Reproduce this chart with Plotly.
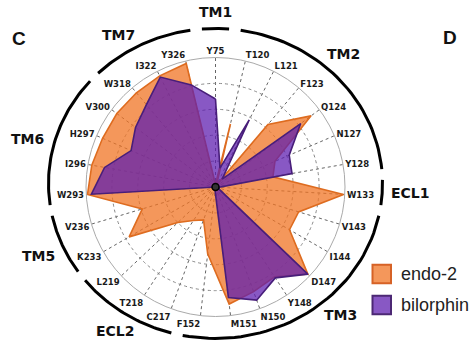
import math
import plotly.graph_objects as go

# ---------------- data ----------------
categories = ["Y75", "T120", "L121", "F123", "Q124", "N127", "Y128", "W133",
              "V143", "I144", "D147", "Y148", "N150", "M151", "F152",
              "C217", "T218", "L219", "K233", "V236",
              "W293", "I296", "H297", "V300", "W318", "I322", "Y326"]
endo2 = [2, 50, 2, 63, 92, 50, 45, 99,
         67, 66, 98, 83, 86, 91, 52,
         27, 31, 40, 77, 59,
         99, 97, 95, 95, 95, 96, 98]
bilorphin = [68, 15, 58, 8, 82, 62, 60, 3,
             3, 3, 98, 84, 93, 86, 3,
             0, 0, 0, 0, 0,
             96, 87, 71, 77, 83, 95, 81]
series_names = ["endo-2", "bilorphin"]

group_names = ["TM1", "TM2", "ECL1", "TM3", "ECL2", "TM5", "TM6", "TM7"]
group_first = ["Y75", "T120", "W133", "V143", "C217", "K233", "W293", "W318"]
group_last = ["Y75", "Y128", "W133", "F152", "L219", "V236", "V300", "Y326"]
panel_letters = ["C", "D"]

# ---------------- style / layout ----------------
W, H = 471, 342
CX, CY, R = 215.5, 187.0, 129.5          # polar centre / radius in px
ARC_CX, ARC_CY, ARC_RX, ARC_RY = 215.5, 183.5, 167, 155
LAB_RX, LAB_RY = 195, 172
label_angle = {"TM1": 0, "TM2": 41, "ECL1": 93.3, "TM3": 140, "ECL2": 211,
               "TM5": 245, "TM6": 285, "TM7": 330}

ORANGE_FILL = "rgba(240,116,36,0.75)"
ORANGE_LINE = "rgb(222,108,32)"
PURPLE_FILL = "rgba(95,30,175,0.74)"
PURPLE_LINE = "rgb(72,30,122)"

fig = go.Figure()

for name, vals, fc, lc in [(series_names[0], endo2, ORANGE_FILL, ORANGE_LINE),
                           (series_names[1], bilorphin, PURPLE_FILL, PURPLE_LINE)]:
    fig.add_trace(go.Scatterpolar(
        r=vals + [vals[0]], theta=categories + [categories[0]],
        mode="lines", fill="toself", fillcolor=fc,
        line=dict(color=lc, width=1.6), name=name, showlegend=False,
        hoverinfo="skip"))

# centre hub
fig.add_trace(go.Scatterpolar(r=[0], theta=[categories[0]], mode="markers",
                              marker=dict(size=7, color="#333",
                                          line=dict(color="black", width=1.5)),
                              showlegend=False, hoverinfo="skip"))

# ---------------- bracket arcs (overlay cartesian in pixel units) ----------------
step = 360.0 / len(categories)
pad = 0.35
for g, f, l in zip(group_names, group_first, group_last):
    a0 = (categories.index(f) - pad) * step
    a1 = (categories.index(l) + pad) * step
    n = 40
    xs, ys = [], []
    for k in range(n + 1):
        a = math.radians(a0 + (a1 - a0) * k / n)
        xs.append(ARC_CX + ARC_RX * math.sin(a))
        ys.append(ARC_CY - ARC_RY * math.cos(a))
    fig.add_trace(go.Scatter(x=xs, y=ys, mode="lines",
                             line=dict(color="black", width=3),
                             showlegend=False, hoverinfo="skip",
                             xaxis="x", yaxis="y"))
    la = math.radians(label_angle[g])
    fig.add_annotation(x=ARC_CX + LAB_RX * math.sin(la),
                       y=ARC_CY - LAB_RY * math.cos(la),
                       xref="x", yref="y", text=g, showarrow=False,
                       font=dict(family="DejaVu Sans", size=14, color="#111",
                                 weight="bold"),
                       xanchor="center", yanchor="middle")

# panel letters
for letter, (px, py) in zip(panel_letters, [(18.5, 38.5), (450, 37)]):
    fig.add_annotation(x=px, y=py, xref="x", yref="y", text=letter,
                       showarrow=False, xanchor="center", yanchor="middle",
                       font=dict(family="Liberation Sans", size=19,
                                 color="#111", weight="bold"))

# manual legend
for i, (name, fc, lc) in enumerate([(series_names[0], ORANGE_FILL, "rgb(214,98,38)"),
                                    (series_names[1], PURPLE_FILL, "rgb(76,40,116)")]):
    yc = 274 + 31 * i
    fig.add_shape(type="rect", xref="x", yref="y",
                  x0=372.5, x1=391, y0=yc - 9.25, y1=yc + 9.25,
                  fillcolor=fc, line=dict(color=lc, width=2))
    fig.add_annotation(x=399, y=yc, xref="x", yref="y", text=name,
                       showarrow=False, xanchor="left", yanchor="middle",
                       font=dict(family="Liberation Sans", size=18,
                                 color="#222"))

fig.update_layout(
    width=W, height=H, margin=dict(l=0, r=0, t=0, b=0),
    paper_bgcolor="white", plot_bgcolor="rgba(0,0,0,0)",
    showlegend=False,
    xaxis=dict(domain=[0, 1], range=[0, W], visible=False, fixedrange=True),
    yaxis=dict(domain=[0, 1], range=[H, 0], visible=False, fixedrange=True),
    polar=dict(
        domain=dict(x=[(CX - R) / W, (CX + R) / W],
                    y=[1 - (CY + R) / H, 1 - (CY - R) / H]),
        bgcolor="rgba(0,0,0,0)",
        angularaxis=dict(
            rotation=90, direction="clockwise", type="category",
            categoryarray=categories,
            tickfont=dict(family="DejaVu Sans", size=8.5, color="#1a1a1a",
                          weight="bold"),
            ticks="", showline=True, linecolor="#aaa", linewidth=1,
            gridcolor="#666", griddash="dot", gridwidth=1),
        radialaxis=dict(
            range=[0, 100], tickvals=[20, 40, 60, 80], showticklabels=False,
            ticks="", showline=False, gridcolor="#888", griddash="dot",
            gridwidth=1),
    ),
)

fig.write_html("out.html", config={"displayModeBar": False},
               post_script="document.body.style.margin='0';"
                           "document.body.style.padding='0';"
                           "document.body.style.overflow='hidden';")
